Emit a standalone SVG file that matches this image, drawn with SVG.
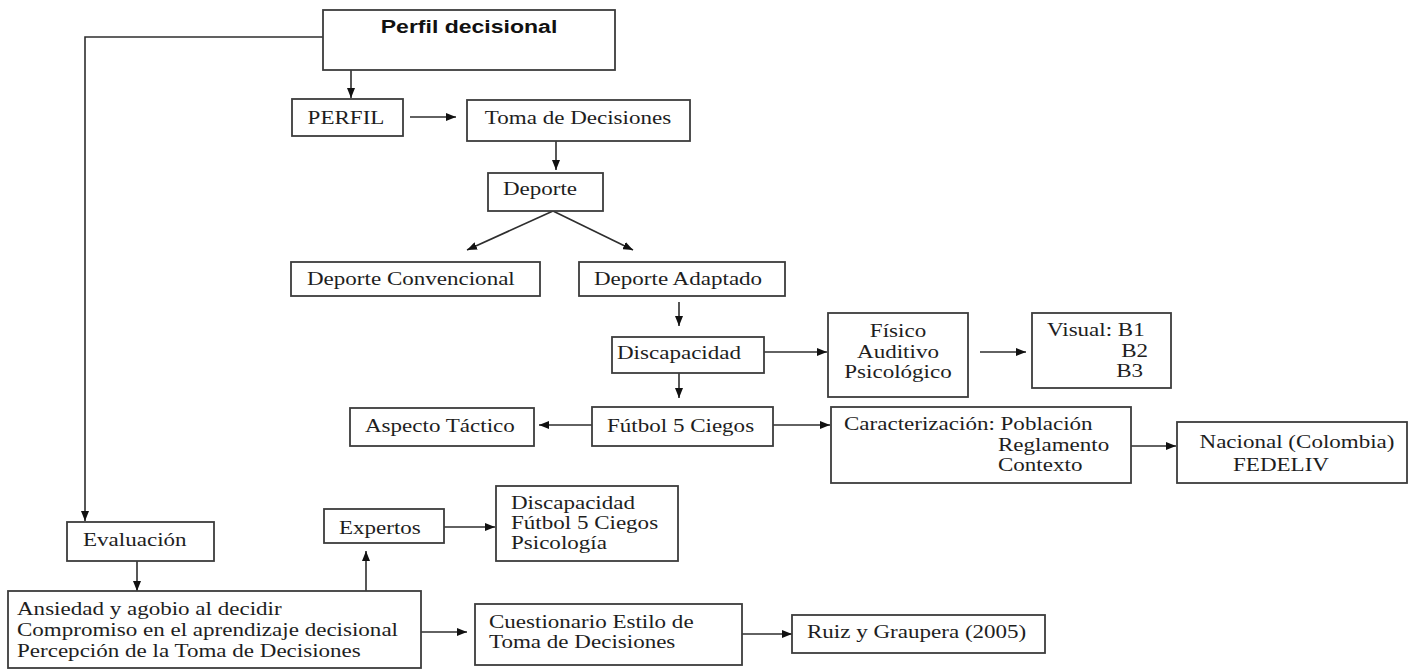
<svg xmlns="http://www.w3.org/2000/svg" width="1411" height="669" viewBox="0 0 1411 669">
<style>
.box{fill:#fff;stroke:#3c3c3c;stroke-width:1.8}
.c{fill:none;stroke:#2e2e2e;stroke-width:1.6}
.t{font-family:"Liberation Serif","Times New Roman",serif;font-size:18px;fill:#1e1e1e}
.b{font-family:"Liberation Sans",Arial,sans-serif;font-size:18px;font-weight:bold;fill:#111}
.m{text-anchor:middle}
.e{text-anchor:end}
</style>
<defs>
<marker id="ah" markerUnits="userSpaceOnUse" markerWidth="10" markerHeight="8" refX="10" refY="4" orient="auto">
<path d="M0,0 L10,4 L0,8 z" fill="#111"/>
</marker>
</defs>
<rect width="1411" height="669" fill="#fff"/>
<g id="connectors">
<path class="c" d="M323 37 H85 V521" marker-end="url(#ah)"/>
<path class="c" d="M351 70 V98" marker-end="url(#ah)"/>
<path class="c" d="M410 117 H456" marker-end="url(#ah)"/>
<path class="c" d="M556 141 V170" marker-end="url(#ah)"/>
<path class="c" d="M553 211 L467 250" marker-end="url(#ah)"/>
<path class="c" d="M553 211 L633 250" marker-end="url(#ah)"/>
<path class="c" d="M679 302 V326" marker-end="url(#ah)"/>
<path class="c" d="M764 352 H827" marker-end="url(#ah)"/>
<path class="c" d="M980 352 H1026" marker-end="url(#ah)"/>
<path class="c" d="M679 373 V398" marker-end="url(#ah)"/>
<path class="c" d="M592 425 H539" marker-end="url(#ah)"/>
<path class="c" d="M773 425 H830" marker-end="url(#ah)"/>
<path class="c" d="M1120 446 H1176" marker-end="url(#ah)"/>
<path class="c" d="M137 561 V591" marker-end="url(#ah)"/>
<path class="c" d="M366 591 V551" marker-end="url(#ah)"/>
<path class="c" d="M444 527 H495" marker-end="url(#ah)"/>
<path class="c" d="M421 632 H467" marker-end="url(#ah)"/>
<path class="c" d="M742 634 H792" marker-end="url(#ah)"/>
</g>
<g id="perfil-decisional">
<rect class="box" x="323" y="10" width="292" height="60"/>
<text class="b m" transform="translate(469 33) scale(1.28 1)">Perfil decisional</text>
</g>
<g id="perfil">
<rect class="box" x="292" y="99" width="111" height="37"/>
<text class="t m" transform="translate(346 124) scale(1.28 1)">PERFIL</text>
</g>
<g id="toma-decisiones">
<rect class="box" x="467" y="100" width="223" height="41"/>
<text class="t m" transform="translate(578 124) scale(1.28 1)">Toma de Decisiones</text>
</g>
<g id="deporte">
<rect class="box" x="488" y="173" width="115" height="38"/>
<text class="t m" transform="translate(540 195) scale(1.28 1)">Deporte</text>
</g>
<g id="deporte-convencional">
<rect class="box" x="291" y="262" width="249" height="34"/>
<text class="t" transform="translate(307 285) scale(1.28 1)">Deporte Convencional</text>
</g>
<g id="deporte-adaptado">
<rect class="box" x="579" y="262" width="206" height="34"/>
<text class="t" transform="translate(594 285) scale(1.28 1)">Deporte Adaptado</text>
</g>
<g id="discapacidad">
<rect class="box" x="612" y="337" width="152" height="36"/>
<text class="t" transform="translate(617 359) scale(1.28 1)">Discapacidad</text>
</g>
<g id="tipos-discapacidad">
<rect class="box" x="828" y="313" width="140" height="84"/>
<text class="t m" transform="translate(898 337) scale(1.28 1)">Físico</text>
<text class="t m" transform="translate(898 358) scale(1.28 1)">Auditivo</text>
<text class="t m" transform="translate(898 378) scale(1.28 1)">Psicológico</text>
</g>
<g id="visual">
<rect class="box" x="1032" y="313" width="139" height="75"/>
<text class="t" transform="translate(1047 336) scale(1.28 1)">Visual: B1</text>
<text class="t e" transform="translate(1148 357) scale(1.28 1)">B2</text>
<text class="t e" transform="translate(1143 377) scale(1.28 1)">B3</text>
</g>
<g id="futbol-5-ciegos">
<rect class="box" x="592" y="407" width="181" height="39"/>
<text class="t" transform="translate(607 432) scale(1.28 1)">Fútbol 5 Ciegos</text>
</g>
<g id="aspecto-tactico">
<rect class="box" x="350" y="408" width="184" height="38"/>
<text class="t" transform="translate(365 432) scale(1.28 1)">Aspecto Táctico</text>
</g>
<g id="caracterizacion">
<rect class="box" x="831" y="407" width="300" height="76"/>
<text class="t" transform="translate(844 430) scale(1.28 1)">Caracterización: Población</text>
<text class="t" transform="translate(998 451) scale(1.28 1)">Reglamento</text>
<text class="t" transform="translate(998 471) scale(1.28 1)">Contexto</text>
</g>
<g id="nacional">
<rect class="box" x="1177" y="422" width="230" height="61"/>
<text class="t m" transform="translate(1297 448) scale(1.28 1)">Nacional (Colombia)</text>
<text class="t m" transform="translate(1281 471) scale(1.28 1)">FEDELIV</text>
</g>
<g id="evaluacion">
<rect class="box" x="67" y="522" width="147" height="39"/>
<text class="t" transform="translate(83 546) scale(1.28 1)">Evaluación</text>
</g>
<g id="dimensiones">
<rect class="box" x="8" y="591" width="413" height="77"/>
<text class="t" transform="translate(17 615) scale(1.28 1)">Ansiedad y agobio al decidir</text>
<text class="t" transform="translate(17 636) scale(1.28 1)">Compromiso en el aprendizaje decisional</text>
<text class="t" transform="translate(17 657) scale(1.28 1)">Percepción de la Toma de Decisiones</text>
</g>
<g id="expertos">
<rect class="box" x="324" y="509" width="120" height="34"/>
<text class="t" transform="translate(339 534) scale(1.28 1)">Expertos</text>
</g>
<g id="areas-expertos">
<rect class="box" x="496" y="486" width="182" height="75"/>
<text class="t" transform="translate(511 509) scale(1.28 1)">Discapacidad</text>
<text class="t" transform="translate(511 529) scale(1.28 1)">Fútbol 5 Ciegos</text>
<text class="t" transform="translate(511 549) scale(1.28 1)">Psicología</text>
</g>
<g id="cuestionario">
<rect class="box" x="475" y="604" width="267" height="61"/>
<text class="t" transform="translate(489 628) scale(1.28 1)">Cuestionario Estilo de</text>
<text class="t" transform="translate(489 648) scale(1.28 1)">Toma de Decisiones</text>
</g>
<g id="ruiz-graupera">
<rect class="box" x="792" y="615" width="253" height="38"/>
<text class="t" transform="translate(807 638) scale(1.28 1)">Ruiz y Graupera (2005)</text>
</g>
</svg>
